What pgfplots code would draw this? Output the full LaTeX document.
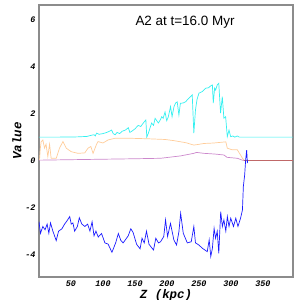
\documentclass[border=0pt]{standalone}
\usepackage{pgfplots}
\pgfplotsset{compat=1.18}
\usepackage{fontspec}
\setmainfont{Liberation Sans}
\setmonofont{Liberation Mono}
\definecolor{cyanl}{HTML}{33F0F0}
\definecolor{peach}{HTML}{FFCC99}
\definecolor{viol}{HTML}{CC88CC}
\definecolor{blu}{HTML}{1A1AFF}
\definecolor{redl}{HTML}{C06868}
\begin{document}
\begin{tikzpicture}
\begin{axis}[
  scale only axis, width=254bp, height=272bp,
  xmin=0, xmax=397, ymin=-4.95, ymax=6.62,
  xtick={50,100,150,200,250,300,350},
  ytick={-4,-2,0,2,4,6},
  major tick length=0pt,
  axis line style={draw=gray!90, line width=1.1pt},
  ticklabel style={font=\fontsize{8.5}{9}\ttfamily\bfseries\itshape},
  /pgf/number format/assume math mode=true,
  xlabel={Z (kpc)}, ylabel={Value},
  label style={font=\fontsize{12.5}{13}\ttfamily\bfseries\itshape},
  xlabel style={at={(rel axis cs:0.5,0)}, anchor=north, yshift=-9bp},
  ylabel style={at={(rel axis cs:0,0.5)}, anchor=south, yshift=14bp},
  clip=true,
  every axis plot/.append style={line width=0.7pt, mark=none},
]
% cyan
\addplot[cyanl] coordinates {
(0,1.0) (30,1.0) (60,1.01) (75,1.03) (82,1.08) (86,1.1) (88,1.05) (90,1.17) (94,1.12) (100,1.15) (106,1.2) (110,1.25) (113.5,1.3) (116,1.15) (119,1.1) (122,1.2) (126,1.15) (130,1.25) (135,1.3) (139.6,1.4) (142,1.2) (145,1.25) (150,1.35) (155,1.5) (159,1.45) (163,1.6) (167,1.73) (168.5,1.0) (171,1.17) (176,1.6) (179,1.5) (181.5,1.8) (184,1.7) (186.6,1.6) (190,1.75) (191.8,1.87) (194,1.8) (197,2.07) (199.6,1.7) (202,1.85) (205.6,2.3) (208,1.87) (211,2.3) (213.5,2.45) (216,2.5) (218.7,1.94) (221,2.44) (225,2.45) (229,2.5) (234,2.65) (239.5,2.8) (242,1.17) (244.6,2.16) (247,2.6) (250,2.87) (255.4,2.94) (260.6,3.08) (265,3.1) (268.4,3.18) (271,3.22) (272.4,2.45) (274.5,3.08) (276,3.0) (278.6,3.22) (281,3.29) (283.8,2.02) (286.5,2.72) (289,1.8) (291.7,1.87) (294.3,1.02) (297,1.3) (299.6,1.02) (303,1.05) (306,1.0) (310,1.05) (313,1.0) (397,1.0)
};
% peach
\addplot[peach] coordinates {
(0.8,0.03) (2,0.5) (3.4,0.81) (6,0.88) (8.6,0.53) (11,0.7) (13.8,0.17) (16.5,0.7) (19,0.1) (27,0.1) (32,0.53) (37.4,0.81) (42.6,0.53) (50.4,0.38) (61,0.31) (71.5,0.33) (76.6,0.53) (81,0.6) (84.5,0.31) (90,0.7) (92.3,0.81) (100,0.75) (108,0.88) (118.5,0.95) (144.6,0.95) (170,0.93) (197,0.9) (211,0.85) (230,0.76) (242,0.66) (258,0.73) (273.5,0.75) (292,0.8) (294.3,0.53) (302,0.46) (310,0.46) (315,0.24) (318,0.1) (320.6,0.03)
};
% violet
\addplot[viol] coordinates {
(0,0.02) (50,0.04) (100,0.06) (150,0.08) (190,0.1) (221,0.2) (242,0.31) (246,0.35) (258,0.31) (275,0.28) (289,0.24) (294,0.14) (310,0.1) (320,0.0)
};
% red
\addplot[redl] coordinates {(320,0.0) (397,0.0)};
% blue
\addplot[blu] coordinates {
(0,-2.6) (2.3,-3.09) (6,-2.8) (9.5,-2.94) (12.7,-2.7) (15.4,-3.09) (18,-2.65) (21.7,-3.0) (26.9,-3.4) (30.6,-3.0) (35.8,-2.9) (40,-2.7) (44,-2.55) (48,-2.38) (50.4,-2.7) (53,-2.65) (55.7,-3.0) (60,-2.8) (63,-2.43) (67,-2.7) (71.7,-2.8) (76,-2.7) (79.6,-3.0) (83,-2.6) (86,-3.2) (89,-3.0) (92.6,-3.25) (97.8,-3.1) (103,-3.5) (108,-3.55) (114,-3.9) (119.8,-3.5) (124,-3.1) (128,-3.4) (131.5,-3.5) (139.4,-3.2) (143.5,-2.9) (147,-3.05) (152.6,-3.56) (158,-3.75) (161,-3.3) (164.5,-3.5) (168,-3.0) (172,-3.56) (176,-3.7) (179,-3.8) (182.6,-3.3) (186.8,-3.5) (190,-3.45) (195,-3.23) (197.8,-2.52) (201,-3.23) (205.5,-2.67) (210.8,-3.37) (215,-3.59) (218.7,-3.02) (221.4,-2.24) (225.5,-3.09) (231.8,-3.5) (238,-3.45) (242,-2.8) (244.6,-3.5) (250,-3.59) (255.4,-3.73) (263,-3.87) (266,-3.37) (268.5,-4.08) (271,-3.73) (273.7,-2.88) (276,-3.3) (278.6,-3.0) (281,-3.94) (284,-2.17) (286.6,-2.8) (289,-2.52) (292,-3.0) (294.4,-2.38) (297,-2.8) (299.7,-2.45) (304,-2.8) (307.6,-2.45) (311,-2.8) (315,-2.45) (318,-2.1) (319.4,-1.1) (321.5,-0.6) (323,0.03) (324.6,0.45) (325.7,-0.1) (326,0.0)
};
\node[font=\fontsize{13.5}{14}\selectfont, anchor=center] at (rel axis cs:0.575,0.9375) {A2 at t=16.0 Myr};
\end{axis}
\pgfresetboundingbox
\path[use as bounding box] (current axis.south west) ++(-39bp,-23bp) rectangle ([xshift=6bp,yshift=5bp]current axis.north east);
\end{tikzpicture}
\end{document}
